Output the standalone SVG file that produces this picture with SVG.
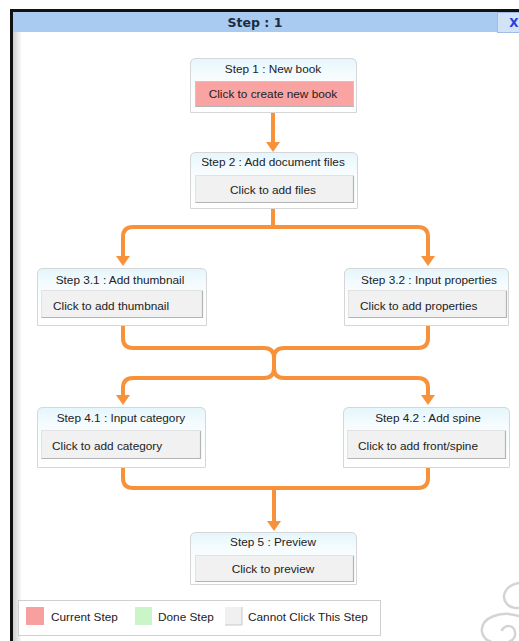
<svg xmlns="http://www.w3.org/2000/svg" width="519" height="641" viewBox="0 0 519 641">
<style>
.box{fill:url(#hdr);stroke:#d6d6d6;stroke-width:1}
.btn{fill:#f1f1f1;stroke:#e2e2e2;stroke-width:1}
.btnsh{fill:none;stroke:#b4b4b4;stroke-width:1.2}
.hd{font-family:"Liberation Sans",Arial,sans-serif;font-size:11.8px;fill:#222;text-anchor:middle}
.bt{font-family:"Liberation Sans",Arial,sans-serif;font-size:11.8px;fill:#222}
.c{text-anchor:middle}
.con{fill:none;stroke:#f7923a;stroke-width:4;stroke-linecap:butt}
.ah{fill:#f7923a}
.lg{font-family:"Liberation Sans",Arial,sans-serif;font-size:11.8px;fill:#222}
</style>
<defs>
<linearGradient id="hdr" x1="0" y1="0" x2="0" y2="1">
<stop offset="0" stop-color="#e4f6fc"/>
<stop offset="0.3" stop-color="#f6fcfe"/>
<stop offset="1" stop-color="#ffffff"/>
</linearGradient>
<linearGradient id="strip" x1="0" y1="0" x2="1" y2="0">
<stop offset="0" stop-color="#cfcfcf"/>
<stop offset="1" stop-color="#ffffff"/>
</linearGradient>
</defs>
<rect x="0" y="0" width="519" height="641" fill="#ffffff"/>
<!-- window frame -->
<g id="window">
<rect x="10" y="9" width="509" height="3" fill="#111"/>
<rect x="10" y="9" width="3" height="632" fill="#111"/>
<rect x="13" y="32" width="9" height="609" fill="url(#strip)"/>
<rect x="13" y="12" width="484" height="20" fill="#a9caf1"/>
<rect x="497.5" y="12.5" width="22" height="20" fill="#d3e3f7" stroke="#9fbde6"/>
<text x="255" y="27" font-family="'DejaVu Sans',Verdana,sans-serif" font-size="12.5" font-weight="bold" fill="#1d2a40" text-anchor="middle">Step : 1</text>
<text x="514" y="27" font-family="'DejaVu Sans',Verdana,sans-serif" font-size="12" font-weight="bold" fill="#2b3be0" text-anchor="middle">X</text>
</g>
<!-- connectors -->
<g id="connectors">
<path class="con" d="M273 112 V143"/>
<polygon class="ah" points="266,142 280,142 273,152"/>
<path class="con" d="M273 208 V227 M123 257 V237 Q123 227 133 227 H418 Q428 227 428 237 V257"/>
<polygon class="ah" points="116,256 130,256 123,266"/>
<polygon class="ah" points="421,256 435,256 428,266"/>
<path class="con" d="M123 325 V338 Q123 348 133 348 H264 Q274 348 274 358 V368 Q274 378 264 378 H133 Q123 378 123 388 V396"/>
<path class="con" d="M428 325 V338 Q428 348 418 348 H284 Q274 348 274 358 V368 Q274 378 284 378 H418 Q428 378 428 388 V396"/>
<polygon class="ah" points="116,395 130,395 123,405"/>
<polygon class="ah" points="421,395 435,395 428,405"/>
<path class="con" d="M123 467 V478 Q123 488 133 488 H418 Q428 488 428 478 V467 M274 488 V522"/>
<polygon class="ah" points="267,521 281,521 274,531"/>
</g>
<!-- nodes -->
<g id="step1">
<path class="box" d="M190.5 112.5 V64 Q190.5 58.5 196 58.5 H351 Q356.5 58.5 356.5 64 V112.5 Z"/>
<text class="hd" x="273" y="73">Step 1 : New book</text>
<rect x="195.5" y="81.5" width="158" height="25" fill="#f9a3a3" stroke="#f0b5b5"/>
<path class="btnsh" d="M195.5 106.5 H353.5"/>
<text class="bt c" x="273" y="98">Click to create new book</text>
</g>
<g id="step2">
<path class="box" d="M190.5 208.5 V158 Q190.5 152.5 196 152.5 H352 Q357.5 152.5 357.5 158 V208.5 Z"/>
<text class="hd" x="273" y="166">Step 2 : Add document files</text>
<rect class="btn" x="195.5" y="175.5" width="158" height="27"/>
<path class="btnsh" d="M353.5 176 V202.5 H195.5"/>
<text class="bt c" x="273" y="194">Click to add files</text>
</g>
<g id="step3_1">
<path class="box" d="M37.5 325.5 V274 Q37.5 268.5 43 268.5 H201 Q206.5 268.5 206.5 274 V325.5 Z"/>
<text class="hd" x="120" y="284">Step 3.1 : Add thumbnail</text>
<rect class="btn" x="41.5" y="290.5" width="161" height="27"/>
<path class="btnsh" d="M202.5 291 V317.5 H41.5"/>
<text class="bt" x="53" y="310">Click to add thumbnail</text>
</g>
<g id="step3_2">
<path class="box" d="M344.5 325.5 V274 Q344.5 268.5 350 268.5 H503 Q508.5 268.5 508.5 274 V325.5 Z"/>
<text class="hd" x="429" y="284">Step 3.2 : Input properties</text>
<rect class="btn" x="348.5" y="290.5" width="158" height="27"/>
<path class="btnsh" d="M506.5 291 V317.5 H348.5"/>
<text class="bt" x="360" y="310">Click to add properties</text>
</g>
<g id="step4_1">
<path class="box" d="M37.5 467.5 V413 Q37.5 407.5 43 407.5 H200 Q205.5 407.5 205.5 413 V467.5 Z"/>
<text class="hd" x="121" y="422">Step 4.1 : Input category</text>
<rect class="btn" x="41.5" y="430.5" width="159" height="28"/>
<path class="btnsh" d="M200.5 431 V458.5 H41.5"/>
<text class="bt" x="52" y="450">Click to add category</text>
</g>
<g id="step4_2">
<path class="box" d="M343.5 467.5 V413 Q343.5 407.5 349 407.5 H504 Q509.5 407.5 509.5 413 V467.5 Z"/>
<text class="hd" x="428" y="422">Step 4.2 : Add spine</text>
<rect class="btn" x="347.5" y="430.5" width="158" height="28"/>
<path class="btnsh" d="M505.5 431 V458.5 H347.5"/>
<text class="bt" x="358" y="450">Click to add front/spine</text>
</g>
<g id="step5">
<path class="box" d="M190.5 584.5 V538 Q190.5 532.5 196 532.5 H351 Q356.5 532.5 356.5 538 V584.5 Z"/>
<text class="hd" x="273" y="546">Step 5 : Preview</text>
<rect class="btn" x="195.5" y="555.5" width="158" height="26"/>
<path class="btnsh" d="M353.5 556 V581.5 H195.5"/>
<text class="bt c" x="273" y="573">Click to preview</text>
</g>
<!-- legend -->
<g id="legend">
<rect x="18.5" y="600.5" width="362" height="35" fill="#ffffff" stroke="#cfcfcf"/>
<rect x="26" y="607" width="18" height="18" fill="#f8a0a0"/>
<text class="lg" x="51" y="621">Current Step</text>
<rect x="135" y="607" width="17" height="18" fill="#c9f5c9"/>
<text class="lg" x="158" y="621">Done Step</text>
<rect x="225" y="607" width="17" height="18" fill="#f0f0f0"/>
<path d="M242 607 V625 H225" fill="none" stroke="#c8c8c8"/>
<text class="lg" x="248" y="621">Cannot Click This Step</text>
</g>
<!-- watermark -->
<g id="watermark" fill="none" stroke="#d4d4d4" stroke-width="2.5" stroke-linecap="round">
<path d="M519 583 C506 585 500 596 507 604 C511 609 519 608 519 608"/>
<path d="M519 616 C500 610 480 618 482 632 C483 638 488 641 490 641"/>
<path d="M502 630 C506 624 514 625 515 632 C516 637 512 641 510 641"/>
</g>
</svg>
